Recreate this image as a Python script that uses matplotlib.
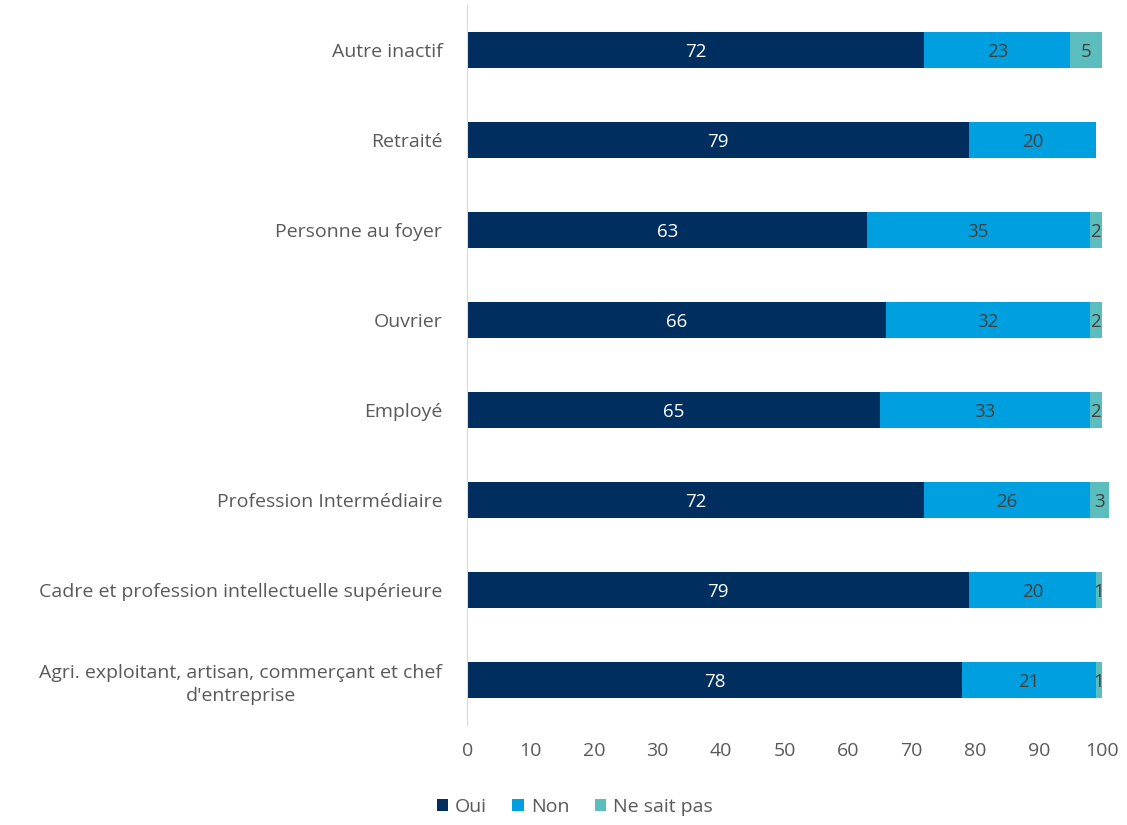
import matplotlib.pyplot as plt
import numpy as np

plt.rcParams['font.family'] = ['Open Sans', 'DejaVu Sans']

categories = ["Agri. exploitant, artisan, commerçant et chef\nd'entreprise",
              "Cadre et profession intellectuelle supérieure",
              "Profession Intermédiaire",
              "Employé",
              "Ouvrier",
              "Personne au foyer",
              "Retraité",
              "Autre inactif"]
oui = [78, 79, 72, 65, 66, 63, 79, 72]
non = [21, 20, 26, 33, 32, 35, 20, 23]
nsp = [1, 1, 3, 2, 2, 2, 0, 5]

series = [("Oui", oui, "#002F5F", "white"),
          ("Non", non, "#009FDF", "#404040"),
          ("Ne sait pas", nsp, "#5BBDBD", "#404040")]

fig = plt.figure(figsize=(11.27, 8.25), dpi=100)
ax = fig.add_axes([0.4145, 0.121, 0.5635, 0.873])

y = np.arange(len(categories))
left = np.zeros(len(categories))
for name, vals, color, tcol in series:
    vals = np.array(vals, dtype=float)
    bars = ax.barh(y, vals, left=left, height=0.4, color=color, label=name,
                   clip_on=False)
    for b, v in zip(bars, vals):
        if v > 0:
            ax.text(b.get_x() + b.get_width() / 2, b.get_y() + b.get_height() / 2 - 0.02,
                    f"{v:.0f}", ha="center", va="center", color=tcol, fontsize=13.5)
    left += vals

ax.set_xlim(0, 100)
ax.set_ylim(-0.5, len(categories) - 0.5)
ax.set_yticks(y)
ax.set_yticklabels(categories, fontsize=14, color="#595959", linespacing=1.35)
ax.set_xticks(np.arange(0, 101, 10))
ax.tick_params(axis="x", labelsize=14, labelcolor="#595959", length=0, pad=12)
ax.tick_params(axis="y", length=0, pad=18)
for lbl in ax.get_yticklabels():
    lbl.set_multialignment("center")

for s in ["top", "right", "bottom"]:
    ax.spines[s].set_visible(False)
ax.spines["left"].set_color("#D9D9D9")

leg = fig.legend(loc="lower center", bbox_to_anchor=(0.51, -0.01), ncol=3,
                 frameon=False, fontsize=14, handlelength=0.6, handleheight=0.6,
                 handletextpad=0.35, columnspacing=1.3)
for t in leg.get_texts():
    t.set_color("#595959")

fig.savefig("out.png", dpi=100)
